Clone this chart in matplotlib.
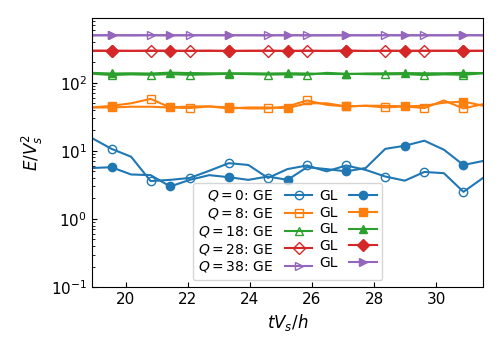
import matplotlib
matplotlib.use('Agg')
import matplotlib.pyplot as plt

# time samples (tV_s/h)
t = [18.91, 19.54, 20.17, 20.80, 21.43, 22.06, 22.69, 23.32, 23.95, 24.58, 25.21,
     25.84, 26.47, 27.10, 27.73, 28.36, 28.99, 29.62, 30.25, 30.88, 31.51]

Qs = [0, 8, 18, 28, 38]
markers = ['o', 's', '^', 'D', '>']

# E/V_s^2, GE scheme
ge_q0 = [15.4, 10.7, 8.2, 3.6, 3.75, 4.0, 5.1, 6.6, 6.2, 4.0, 5.4,
         6.1, 5.0, 6.1, 5.25, 4.2, 3.65, 4.9, 4.7, 2.5, 4.0]
ge_q8 = [43.4, 45.9, 50, 58, 43.4, 42.5, 45, 43.4, 42, 42, 45,
         55, 47.5, 45, 46, 43.4, 45, 42.5, 55, 42, 48.6]
ge_q18 = [136, 130, 133, 131, 134, 131, 133, 136, 134, 132, 133,
          131, 140, 136, 134, 133, 134, 130, 133, 131, 138]
ge_q28 = [295, 296, 294, 297, 295, 293, 296, 294, 295, 296, 294,
          295, 293, 296, 294, 295, 295, 294, 296, 295, 294]
ge_q38 = [498, 500, 497, 501, 499, 498, 500, 499, 501, 498, 500,
          499, 497, 500, 499, 501, 498, 500, 499, 500, 499]

# E/V_s^2, GL scheme
gl_q0 = [5.6, 5.75, 4.5, 4.4, 3.0, 3.75, 4.4, 4.1, 3.75, 4.2, 3.75,
         5.75, 5.4, 5.0, 5.6, 10.7, 11.9, 14.1, 10.4, 6.2, 7.1]
gl_q8 = [43.4, 43.4, 44.5, 44.5, 43.4, 45, 45, 42, 43.4, 43.4, 42.5,
         50, 50, 45, 46, 46, 45, 46, 51, 53, 46]
gl_q18 = [140, 137, 138, 137, 141, 139, 138, 138, 138, 137, 138,
          137, 135, 134, 137, 138, 139, 138, 138, 140, 139]
gl_q28 = [296, 295, 295, 294, 295, 296, 295, 294, 295, 295, 294,
          296, 295, 296, 294, 295, 295, 296, 295, 295, 296]
gl_q38 = [500, 499, 500, 500, 499, 501, 500, 500, 499, 500, 500,
          499, 500, 500, 499, 500, 500, 499, 500, 501, 500]

ge = [ge_q0, ge_q8, ge_q18, ge_q28, ge_q38]
gl = [gl_q0, gl_q8, gl_q18, gl_q28, gl_q38]

fig, ax = plt.subplots(figsize=(5, 3.5), dpi=100)
fig.subplots_adjust(left=0.184, right=0.966, bottom=0.18, top=0.949)

h_ge, h_gl = [], []
for i, q in enumerate(Qs):
    c = 'C%d' % i
    l1, = ax.plot(t, ge[i], color=c, marker=markers[i], mfc='none',
                  markevery=(1, 2), label='$Q=%d$: GE' % q)
    l2, = ax.plot(t, gl[i], color=c, marker=markers[i],
                  markevery=(1, 3), label='GL')
    h_ge.append(l1)
    h_gl.append(l2)

ax.set_yscale('log')
ax.set_xlim(18.91, 31.51)
ax.set_ylim(0.1, 900)
ax.set_xlabel('$tV_s/h$', fontsize=12)
ax.set_ylabel('$E/V_s^2$', fontsize=12)
ax.tick_params(which='both', direction='in')
ax.tick_params(labelsize=11)

# column 1: GE, column 2: GL (label before handle)
hs = h_ge + h_gl
ax.legend(hs, [h.get_label() for h in hs], ncol=2, markerfirst=False,
          loc='lower center', fontsize=10, columnspacing=0.5,
          labelspacing=0.2)

plt.savefig('out.png')
